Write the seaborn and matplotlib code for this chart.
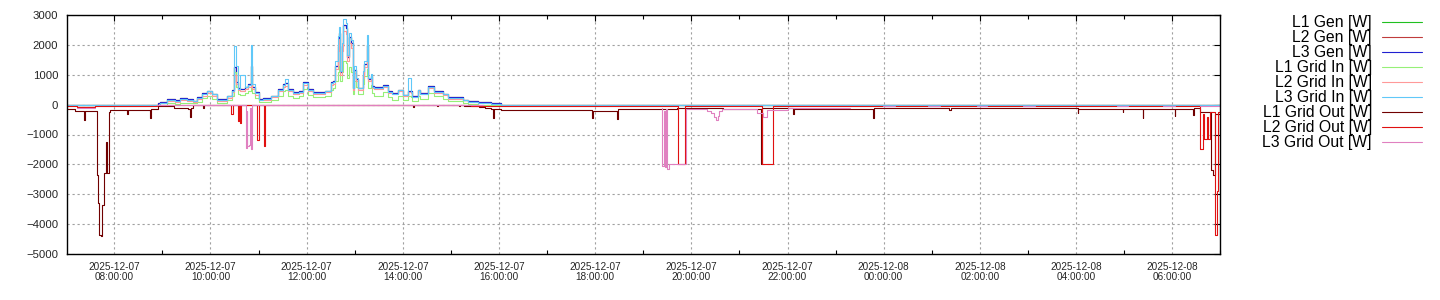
import matplotlib
matplotlib.use("Agg")
import matplotlib.pyplot as plt
import matplotlib.dates as mdates
from matplotlib.lines import Line2D
import numpy as np
import pandas as pd
import seaborn as sns

# ---------------- data ----------------
# daytime grid shared by the generation / grid-in series (HH:MM, 07:01 Dec 7 -> 07:00 Dec 8)
day_t = ["07:01","08:55","08:57","09:06","09:16","09:22","09:31","09:38","09:43","09:50",
         "09:56","10:02","10:08","10:21","10:27","10:30","10:32","10:35","10:37","10:43",
         "10:47","10:50","10:52","10:55","11:00","11:06","11:15","11:24","11:31","11:33",
         "11:37","11:43","11:50","11:56","12:02","12:08","12:17","12:23","12:30","12:33",
         "12:36","12:39","12:40","12:42","12:44","12:46","12:49","12:50","12:51","12:53",
         "12:55","12:58","12:59","13:01","13:04","13:10","13:11","13:15","13:16","13:17",
         "13:20","13:22","13:24","13:35","13:41","13:47","13:54","14:00","14:06","14:10",
         "14:12","14:19","14:22","14:32","14:39","14:50","14:56","15:15","15:21","15:34",
         "15:50","16:02","07:00"]

# the three per-phase generation curves coincide in the picture
gen_phase_w = [0,60,100,190,150,210,190,130,245,380,
               470,360,190,300,490,1250,750,550,520,600,
               690,1300,600,410,190,210,300,520,690,720,
               520,410,450,750,520,410,420,470,750,780,
               1300,1950,2400,1100,1950,2650,2550,2100,1600,2250,
               2050,550,1150,850,560,1000,1350,2000,1200,850,
               950,610,580,650,450,390,500,330,450,450,
               280,500,390,610,450,360,245,170,110,80,
               45,0,0]
l1_gen_w = gen_phase_w
l2_gen_w = gen_phase_w
l3_gen_w = gen_phase_w

l3_in_w = [0,0,60,150,120,180,170,110,220,350,
           440,340,170,280,470,1950,1300,530,1000,580,
           670,2000,700,390,170,190,280,500,670,860,
           500,390,430,730,500,390,400,450,730,760,
           1450,2290,2590,1115,2060,2880,2730,2230,1670,2400,
           2170,540,1280,890,540,1115,1450,2340,1340,900,
           1030,590,560,630,430,370,480,315,890,430,
           260,480,370,590,430,340,225,150,95,65,
           30,0,0]
l2_in_w = [0,0,40,120,100,150,130,90,180,300,
           380,290,130,230,420,1000,700,480,450,520,
           600,1100,520,330,150,170,240,450,600,640,
           450,350,400,650,460,360,370,420,650,700,
           1200,1800,2200,1000,1800,2450,2350,1900,1450,2050,
           1900,500,1050,780,500,900,1250,1850,1100,780,
           850,550,530,600,400,340,450,290,420,400,
           240,460,350,560,400,320,200,140,90,60,
           30,0,0]
l1_in_w = [0,0,0,40,30,60,70,40,100,220,
           300,200,60,150,300,1100,600,350,330,380,
           450,900,400,220,80,100,150,300,450,480,
           300,220,280,520,330,250,260,300,500,550,
           800,1100,1300,800,1100,1450,1400,1150,900,1250,
           1100,350,800,600,350,700,950,1200,800,550,
           650,400,300,420,250,170,300,150,300,250,
           110,300,200,390,280,200,110,55,30,0,
           0,0,0]

l1_out_t = ["07:01","07:11","07:22","07:23","07:39","07:40","07:41","07:44","07:45","07:47",
            "07:50","07:51","07:53","07:55","08:16","08:17","08:45","08:46","08:55","09:15",
            "09:32","09:35","09:36","09:38","09:51","09:52","14:13","14:14","14:43","14:44",
            "15:10","15:11","15:16","15:35","15:43","15:50","15:52","15:54","16:02","17:56",
            "17:57","18:27","18:28","19:42","20:39","21:27","21:28","22:07","22:08","23:47",
            "23:48","01:22","01:24","04:02","04:03","04:58","04:59","05:23","05:24","06:03",
            "06:04","06:26","06:27","06:35","06:48","06:51","06:53","07:00"]
l1_out_w = [-150,-220,-500,-220,-2350,-3300,-4350,-4400,-3350,-2300,
            -1250,-2300,-250,-180,-300,-170,-450,-150,-60,-100,
            -150,-400,-100,0,-100,0,-80,0,-60,0,
            -60,0,-30,-70,-100,-130,-440,-150,-170,-440,
            -210,-490,-160,-120,-155,-2000,-100,-320,-155,-435,
            -120,-170,-120,-270,-155,-235,-155,-435,-155,-380,
            -155,-345,-120,-250,-2200,-2350,-300,-300]

l2_out_t = ["07:01","07:13","07:36","08:53","10:26","10:28","10:35","10:36","10:37","10:38",
            "10:58","11:00","11:07","11:08","15:25","19:43","19:52","21:28","21:42","06:35",
            "06:39","06:40","06:44","06:45","06:47","06:53","06:54","06:56","06:57","07:00"]
l2_out_w = [-60,-90,-50,0,-300,0,-550,0,-600,0,
            -1200,0,-1400,0,-30,-2000,-40,-2000,-40,-1480,
            -300,-1150,-400,-1150,-250,-3400,-4350,-2900,-250,-250]

# None = no sample (gap in the line)
l3_out_t = ["07:13","07:36","08:53","10:44","10:45","10:46","10:48","10:49","10:50","10:52",
            "15:40","19:23","19:24","19:26","19:27","19:29","19:30","19:32","19:53","20:19",
            "20:24","20:28","20:31","20:33","20:35","20:38","21:22","21:29","21:35","22:00",
            "23:18","23:59","00:14","00:55","01:10","01:56","02:09","02:54","03:09","04:51",
            "05:05","05:49","06:03","06:35","07:00"]
l3_out_w = [-100,None,0,-1450,-200,-1400,-1350,-100,-1500,0,
            None,-100,-2050,-200,-2100,-150,-2150,-2000,-130,-200,
            -280,-400,-530,-380,-230,-150,-270,-410,-180,-100,
            None,-60,None,-60,None,-60,None,-60,None,-60,
            None,-60,None,-50,-50]

labels = ["L1 Gen [W]", "L2 Gen [W]", "L3 Gen [W]",
          "L1 Grid In [W]", "L2 Grid In [W]", "L3 Grid In [W]",
          "L1 Grid Out [W]", "L2 Grid Out [W]", "L3 Grid Out [W]"]
colors = ["#20c020", "#c03c3c", "#2020d0",
          "#96f078", "#ff9999", "#60c8f8",
          "#700000", "#e01010", "#e080c0"]

# ---------------- helpers ----------------
def to_ts(hhmm):
    out = []
    for s in hhmm:
        h, m = map(int, s.split(":"))
        day = 7 if h * 60 + m > 7 * 60 else 8
        out.append(pd.Timestamp(2025, 12, day, h, m))
    return out

def segments(times, vals):
    ts = to_ts(times)
    segs, cur_t, cur_v, last = [], [], [], None
    for t, v in zip(ts, vals):
        if v is None:
            if cur_t:
                cur_t.append(t); cur_v.append(last)
                segs.append((cur_t, cur_v))
            cur_t, cur_v = [], []
        else:
            cur_t.append(t); cur_v.append(v); last = v
    if cur_t:
        segs.append((cur_t, cur_v))
    return segs

series = [(day_t, l1_gen_w), (day_t, l2_gen_w), (day_t, l3_gen_w),
          (day_t, l1_in_w), (day_t, l2_in_w), (day_t, l3_in_w),
          (l1_out_t, l1_out_w), (l2_out_t, l2_out_w), (l3_out_t, l3_out_w)]

# ---------------- figure ----------------
sns.set_theme(style="white")
plt.rcParams["font.family"] = ["Liberation Sans", "DejaVu Sans"]

W, H = 1440, 300
fig = plt.figure(figsize=(W / 100, H / 100), dpi=100)
fig.patch.set_facecolor("white")
ax = fig.add_axes([67.3 / W, 1 - 254 / H, (1220.3 - 67.3) / W, (254 - 15) / H])
ax.set_facecolor("white")

for (t, v), c in zip(series, colors):
    assert len(t) == len(v)
    for st, sv in segments(t, v):
        sns.lineplot(x=st, y=sv, ax=ax, color=c, linewidth=0.8,
                     drawstyle="steps-post", estimator=None, sort=False,
                     legend=False)

ax.set_xlim(pd.Timestamp("2025-12-07 07:01:24"), pd.Timestamp("2025-12-08 07:00:00"))
ax.set_ylim(-5000, 3000)
ax.set_yticks(np.arange(-5000, 3001, 1000))
ax.xaxis.set_major_locator(mdates.HourLocator(byhour=range(0, 24, 2)))
ax.xaxis.set_minor_locator(mdates.HourLocator(byhour=range(1, 24, 2)))
ax.xaxis.set_major_formatter(mdates.DateFormatter("%Y-%m-%d\n%H:%M:%S"))
ax.set_xlabel("")
ax.set_ylabel("")

ax.grid(True, which="major", color="#a0a0a0", linestyle=(0, (2, 2.5)), linewidth=0.8)
ax.set_axisbelow(True)
for sp in ax.spines.values():
    sp.set_color("black")
    sp.set_linewidth(1.0)

ax.tick_params(axis="both", which="major", direction="in", top=True, right=True,
               length=4, width=0.8, color="black")
ax.tick_params(axis="x", which="minor", direction="in", top=True, bottom=True,
               length=3, width=0.8, color="black")
ax.tick_params(axis="x", which="major", labelsize=7.2, pad=6)
ax.tick_params(axis="y", which="major", labelsize=8.2, pad=6.5)
for lab in ax.get_xticklabels():
    lab.set_linespacing(1.0)

# legend (gnuplot style: right-aligned text, sample line on the right)
for i, (lab, c) in enumerate(zip(labels, colors)):
    y = 1 - (22.3 + 15 * i) / H
    fig.text(1372 / W, y, lab, ha="right", va="center", fontsize=11.3, color="black")
    fig.add_artist(Line2D([1382 / W, 1422 / W], [y, y], color=c, linewidth=0.8,
                          transform=fig.transFigure))

fig.savefig("out.png", dpi=100, facecolor="white")
